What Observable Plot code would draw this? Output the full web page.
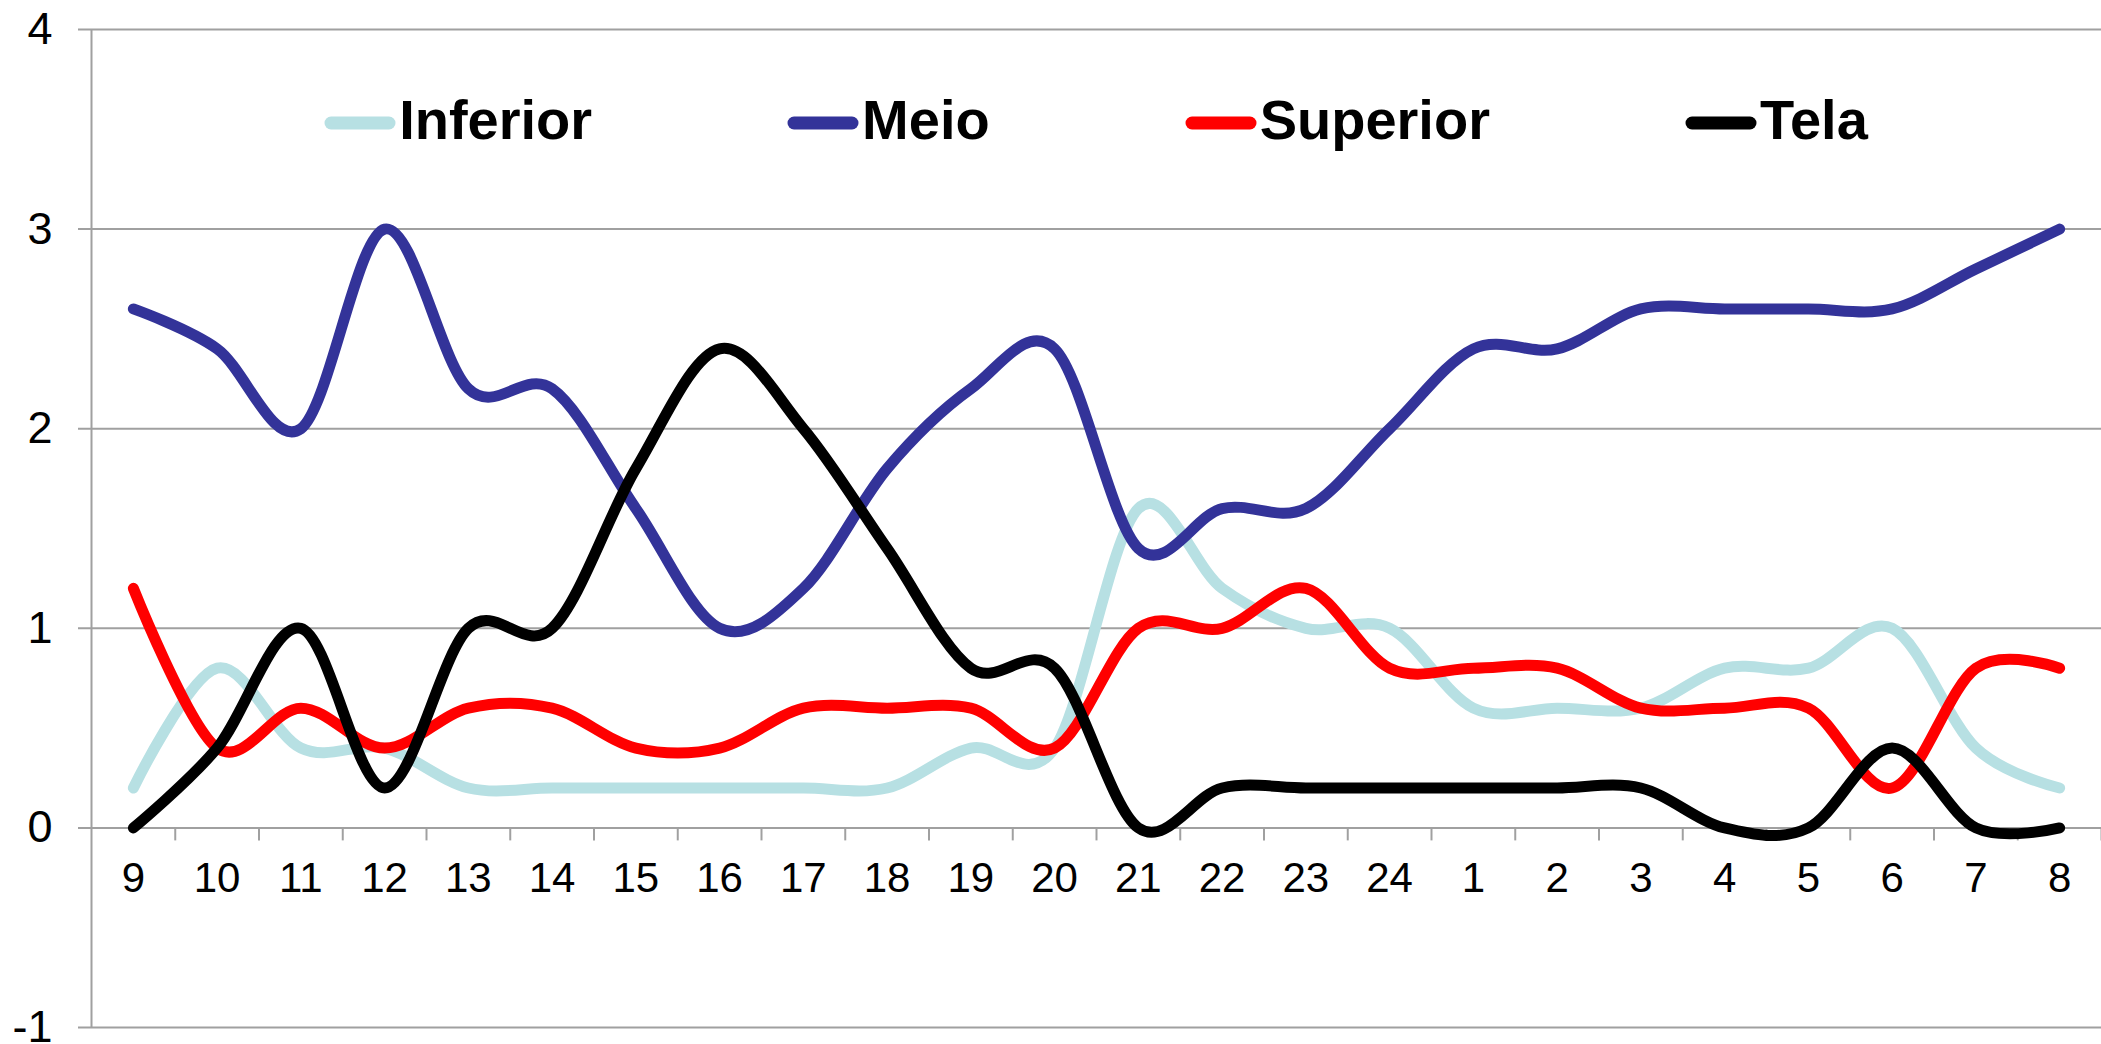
<!DOCTYPE html>
<html>
<head>
<meta charset="utf-8">
<script src="https://cdn.jsdelivr.net/npm/d3@7"></script>
<script src="https://cdn.jsdelivr.net/npm/@observablehq/plot@0.6"></script>
<style>
  html, body { margin: 0; padding: 0; background: #fff; }
  #wrap { position: relative; width: 2101px; height: 1044px; font-family: "Liberation Sans", Arial, sans-serif; }
  #legend {
    position: absolute; left: 91px; right: 0; top: 92px; height: 56px;
    display: flex; justify-content: center; align-items: center; gap: 195px;
    font-family: "Liberation Sans", Arial, sans-serif; font-weight: bold; font-size: 56px; line-height: 56px; color: #000;
  }
  .item { display: flex; align-items: center; white-space: nowrap; }
  .item svg { margin-right: 3px; margin-top: 5px; }
</style>
</head>
<body>
<div id="wrap">
  <div id="chart"></div>
  <div id="legend"></div>
</div>
<script>
// ---- data ----
const categories = ["9","10","11","12","13","14","15","16","17","18","19","20","21","22","23","24","1","2","3","4","5","6","7","8"];
const seriesNames = ["Inferior", "Meio", "Superior", "Tela"];
const seriesColors = ["#b7e0e3", "#333399", "#ff0000", "#000000"];
const inferior = [0.2, 0.8, 0.4, 0.4, 0.2, 0.2, 0.2, 0.2, 0.2, 0.2, 0.4, 0.4, 1.6, 1.2, 1.0, 1.0, 0.6, 0.6, 0.6, 0.8, 0.8, 1.0, 0.4, 0.2];
const meio     = [2.6, 2.4, 2.0, 3.0, 2.2, 2.2, 1.6, 1.0, 1.2, 1.8, 2.2, 2.4, 1.4, 1.6, 1.6, 2.0, 2.4, 2.4, 2.6, 2.6, 2.6, 2.6, 2.8, 3.0];
const superior = [1.2, 0.4, 0.6, 0.4, 0.6, 0.6, 0.4, 0.4, 0.6, 0.6, 0.6, 0.4, 1.0, 1.0, 1.2, 0.8, 0.8, 0.8, 0.6, 0.6, 0.6, 0.2, 0.8, 0.8];
const tela     = [0.0, 0.4, 1.0, 0.2, 1.0, 1.0, 1.8, 2.4, 2.0, 1.4, 0.8, 0.8, 0.0, 0.2, 0.2, 0.2, 0.2, 0.2, 0.2, 0.0, 0.0, 0.4, 0.0, 0.0];
const yTicks = [-1, 0, 1, 2, 3, 4];

// ---- table for the library ----
const seriesValues = [inferior, meio, superior, tela];
const rows = [];
seriesNames.forEach((name, s) => {
  categories.forEach((c, i) => rows.push({series: name, i, cat: c, v: seriesValues[s][i]}));
});
const catIndex = categories.map((c, i) => ({i, cat: c}));
const boundaries = categories.map((c, i) => i + 0.5);

const gray = "#a0a0a0";
const chart = Plot.plot({
  width: 2101,
  height: 1044,
  marginLeft: 91,
  marginRight: 0,
  marginTop: 29,
  marginBottom: 17,
  style: {fontFamily: "'Liberation Sans', Arial, sans-serif", background: "#fff", overflow: "visible"},
  x: {type: "linear", domain: [-0.5, categories.length - 0.5], axis: null, label: null},
  y: {domain: [-1, 4], axis: null, label: null},
  color: {domain: seriesNames, range: seriesColors},
  marks: [
    Plot.ruleY(yTicks, {stroke: gray, strokeWidth: 2, insetLeft: -13}),
    Plot.ruleX([-0.5], {stroke: gray, strokeWidth: 2}),
    Plot.ruleX(boundaries, {x: d => d, y1: 0, y2: 0, insetBottom: -13, stroke: gray, strokeWidth: 2}),
    Plot.axisY({ticks: yTicks, tickSize: 0, tickPadding: 39, fontSize: 45, fill: "#000", label: null, tickFormat: d => String(d)}),
    Plot.text(catIndex, {x: "i", y: 0, text: "cat", dy: 51, fontSize: 42, fill: "#000", lineAnchor: "middle"}),
    Plot.line(rows, {x: "i", y: "v", z: "series", stroke: "series", strokeWidth: 11, curve: "cardinal", strokeLinecap: "round", strokeLinejoin: "round"})
  ]
});
document.getElementById("chart").appendChild(chart);

// ---- legend (overlaid inside the plot area) ----
const legend = d3.select("#legend");
seriesNames.forEach((name, s) => {
  const item = legend.append("div").attr("class", "item");
  const svg = item.append("svg").attr("width", 72).attr("height", 14);
  svg.append("line").attr("x1", 7).attr("x2", 65).attr("y1", 7).attr("y2", 7)
    .attr("stroke", seriesColors[s]).attr("stroke-width", 13).attr("stroke-linecap", "round");
  item.append("span").text(name);
});
</script>
</body>
</html>
